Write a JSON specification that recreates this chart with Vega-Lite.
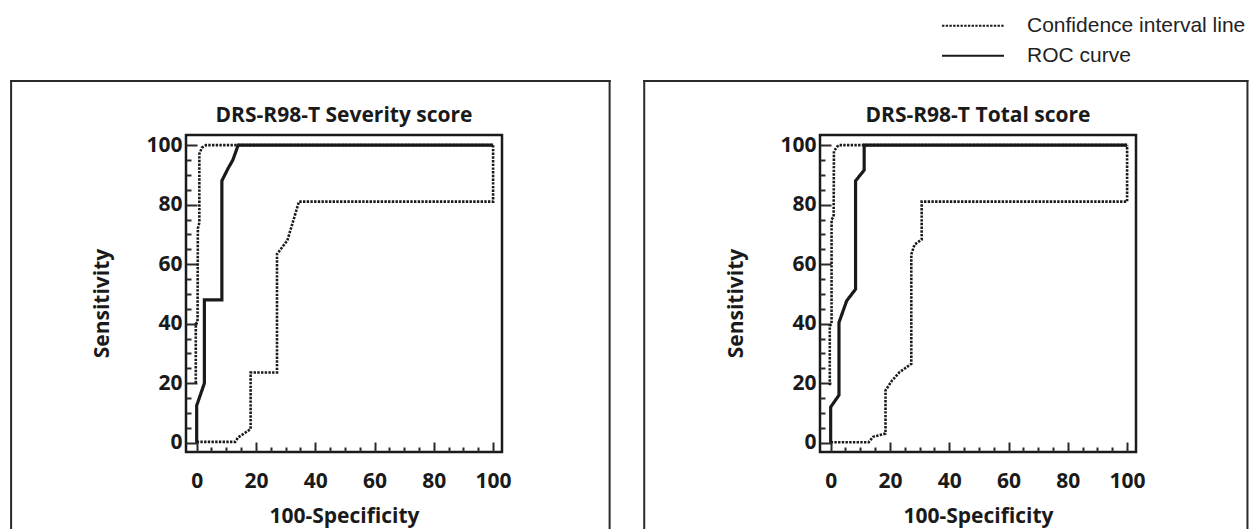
{
  "$schema": "https://vega.github.io/schema/vega-lite/v6.json",
  "background": "white",
  "padding": {"left": 8, "top": 11, "right": 6, "bottom": 0},
  "autosize": {"type": "pad"},
  "spacing": 28,
  "align": "each",
  "datasets": {
    "roc": [
      {"panel": "Severity", "series": "upper", "type": "Confidence interval line", "order": 1, "x": -0.3, "y": 20},
      {"panel": "Severity", "series": "upper", "type": "Confidence interval line", "order": 2, "x": -0.3, "y": 40},
      {"panel": "Severity", "series": "upper", "type": "Confidence interval line", "order": 3, "x": 0.3, "y": 40.5},
      {"panel": "Severity", "series": "upper", "type": "Confidence interval line", "order": 4, "x": 0.4, "y": 72},
      {"panel": "Severity", "series": "upper", "type": "Confidence interval line", "order": 5, "x": 0.9, "y": 74},
      {"panel": "Severity", "series": "upper", "type": "Confidence interval line", "order": 6, "x": 0.9, "y": 97},
      {"panel": "Severity", "series": "upper", "type": "Confidence interval line", "order": 7, "x": 1.8, "y": 99.2},
      {"panel": "Severity", "series": "upper", "type": "Confidence interval line", "order": 8, "x": 3.2, "y": 100},
      {"panel": "Severity", "series": "upper", "type": "Confidence interval line", "order": 9, "x": 100, "y": 100},
      {"panel": "Severity", "series": "lower", "type": "Confidence interval line", "order": 1, "x": 0, "y": 0.3},
      {"panel": "Severity", "series": "lower", "type": "Confidence interval line", "order": 2, "x": 13, "y": 0.3},
      {"panel": "Severity", "series": "lower", "type": "Confidence interval line", "order": 3, "x": 14, "y": 1.8},
      {"panel": "Severity", "series": "lower", "type": "Confidence interval line", "order": 4, "x": 18.2, "y": 4.6},
      {"panel": "Severity", "series": "lower", "type": "Confidence interval line", "order": 5, "x": 18.2, "y": 23.6},
      {"panel": "Severity", "series": "lower", "type": "Confidence interval line", "order": 6, "x": 27.1, "y": 23.6},
      {"panel": "Severity", "series": "lower", "type": "Confidence interval line", "order": 7, "x": 27.1, "y": 63.4},
      {"panel": "Severity", "series": "lower", "type": "Confidence interval line", "order": 8, "x": 30.6, "y": 68},
      {"panel": "Severity", "series": "lower", "type": "Confidence interval line", "order": 9, "x": 34.5, "y": 81},
      {"panel": "Severity", "series": "lower", "type": "Confidence interval line", "order": 10, "x": 100, "y": 81},
      {"panel": "Severity", "series": "lower", "type": "Confidence interval line", "order": 11, "x": 100, "y": 100},
      {"panel": "Severity", "series": "roc", "type": "ROC curve", "order": 1, "x": 0, "y": 0},
      {"panel": "Severity", "series": "roc", "type": "ROC curve", "order": 2, "x": 0, "y": 12.5},
      {"panel": "Severity", "series": "roc", "type": "ROC curve", "order": 3, "x": 2.6, "y": 20},
      {"panel": "Severity", "series": "roc", "type": "ROC curve", "order": 4, "x": 2.6, "y": 48},
      {"panel": "Severity", "series": "roc", "type": "ROC curve", "order": 5, "x": 8.5, "y": 48},
      {"panel": "Severity", "series": "roc", "type": "ROC curve", "order": 6, "x": 8.5, "y": 88},
      {"panel": "Severity", "series": "roc", "type": "ROC curve", "order": 7, "x": 10.5, "y": 92},
      {"panel": "Severity", "series": "roc", "type": "ROC curve", "order": 8, "x": 12.2, "y": 95},
      {"panel": "Severity", "series": "roc", "type": "ROC curve", "order": 9, "x": 14, "y": 100},
      {"panel": "Severity", "series": "roc", "type": "ROC curve", "order": 10, "x": 100, "y": 100},

      {"panel": "Total", "series": "upper", "type": "Confidence interval line", "order": 1, "x": -0.3, "y": 19.3},
      {"panel": "Total", "series": "upper", "type": "Confidence interval line", "order": 2, "x": -0.3, "y": 39.3},
      {"panel": "Total", "series": "upper", "type": "Confidence interval line", "order": 3, "x": 0.3, "y": 40},
      {"panel": "Total", "series": "upper", "type": "Confidence interval line", "order": 4, "x": 0.3, "y": 75},
      {"panel": "Total", "series": "upper", "type": "Confidence interval line", "order": 5, "x": 1.0, "y": 76},
      {"panel": "Total", "series": "upper", "type": "Confidence interval line", "order": 6, "x": 1.1, "y": 98},
      {"panel": "Total", "series": "upper", "type": "Confidence interval line", "order": 7, "x": 2.6, "y": 100},
      {"panel": "Total", "series": "upper", "type": "Confidence interval line", "order": 8, "x": 100, "y": 100},
      {"panel": "Total", "series": "lower", "type": "Confidence interval line", "order": 1, "x": 0, "y": 0.2},
      {"panel": "Total", "series": "lower", "type": "Confidence interval line", "order": 2, "x": 12.8, "y": 0.2},
      {"panel": "Total", "series": "lower", "type": "Confidence interval line", "order": 3, "x": 14.3, "y": 2},
      {"panel": "Total", "series": "lower", "type": "Confidence interval line", "order": 4, "x": 18.5, "y": 3.1},
      {"panel": "Total", "series": "lower", "type": "Confidence interval line", "order": 5, "x": 18.5, "y": 17.6},
      {"panel": "Total", "series": "lower", "type": "Confidence interval line", "order": 6, "x": 20.7, "y": 20.9},
      {"panel": "Total", "series": "lower", "type": "Confidence interval line", "order": 7, "x": 23.2, "y": 23.7},
      {"panel": "Total", "series": "lower", "type": "Confidence interval line", "order": 8, "x": 27.2, "y": 26.5},
      {"panel": "Total", "series": "lower", "type": "Confidence interval line", "order": 9, "x": 27.2, "y": 63.3},
      {"panel": "Total", "series": "lower", "type": "Confidence interval line", "order": 10, "x": 28.3, "y": 66.6},
      {"panel": "Total", "series": "lower", "type": "Confidence interval line", "order": 11, "x": 30.7, "y": 68.3},
      {"panel": "Total", "series": "lower", "type": "Confidence interval line", "order": 12, "x": 30.7, "y": 81},
      {"panel": "Total", "series": "lower", "type": "Confidence interval line", "order": 13, "x": 100, "y": 81},
      {"panel": "Total", "series": "lower", "type": "Confidence interval line", "order": 14, "x": 100, "y": 100},
      {"panel": "Total", "series": "roc", "type": "ROC curve", "order": 1, "x": 0, "y": 0},
      {"panel": "Total", "series": "roc", "type": "ROC curve", "order": 2, "x": 0, "y": 12},
      {"panel": "Total", "series": "roc", "type": "ROC curve", "order": 3, "x": 2.8, "y": 16},
      {"panel": "Total", "series": "roc", "type": "ROC curve", "order": 4, "x": 2.8, "y": 40.4},
      {"panel": "Total", "series": "roc", "type": "ROC curve", "order": 5, "x": 5.4, "y": 47.7},
      {"panel": "Total", "series": "roc", "type": "ROC curve", "order": 6, "x": 8.4, "y": 51.6},
      {"panel": "Total", "series": "roc", "type": "ROC curve", "order": 7, "x": 8.4, "y": 88},
      {"panel": "Total", "series": "roc", "type": "ROC curve", "order": 8, "x": 11.3, "y": 91.6},
      {"panel": "Total", "series": "roc", "type": "ROC curve", "order": 9, "x": 11.3, "y": 100},
      {"panel": "Total", "series": "roc", "type": "ROC curve", "order": 10, "x": 100, "y": 100}
    ]
  },
  "hconcat": [
    {
      "width": 316,
      "height": 317,
      "title": {"text": "DRS-R98-T Severity score", "frame": "group", "anchor": "middle", "offset": -63, "baseline": "alphabetic", "font": "Open Sans", "fontSize": 21, "fontWeight": "bold", "color": "#1a1a1a"},
      "layer": [
        {
          "data": {"name": "roc"},
          "transform": [{"filter": "datum.panel === 'Severity'"}],
          "mark": {"type": "line", "color": "#1a1a1a", "strokeCap": "butt", "strokeJoin": "miter", "clip": false},
          "encoding": {
            "x": {"field": "x", "type": "quantitative", "scale": {"domain": [-3.6, 103], "nice": false, "zero": false},
                  "axis": {"orient": "bottom", "values": [0, 20, 40, 60, 80, 100], "ticks": false, "domain": false, "grid": false, "labelPadding": 18, "labelFlush": false, "labelOverlap": false, "title": "100-Specificity", "titlePadding": 14}},
            "y": {"field": "y", "type": "quantitative", "scale": {"domain": [-3.1, 103.4], "nice": false, "zero": false},
                  "axis": {"orient": "left", "values": [0, 20, 40, 60, 80, 100], "ticks": false, "domain": false, "grid": false, "labelPadding": 4, "labelFlush": false, "labelOverlap": false, "title": "Sensitivity", "titlePadding": 33, "titleY": 168}},
            "detail": {"field": "series", "type": "nominal"},
            "order": {"field": "order", "type": "quantitative"},
            "strokeDash": {"field": "type", "type": "nominal", "scale": {"domain": ["Confidence interval line", "ROC curve"], "range": [[2.4, 1.3], [1, 0]]},
                           "legend": {"title": null, "orient": "none", "legendX": 755, "legendY": -124, "symbolType": "stroke", "symbolSize": 3844, "symbolStrokeWidth": 2, "symbolStrokeColor": "#1a1a1a", "clipHeight": 29.5, "rowPadding": 0, "labelOffset": 22, "labelFont": "Liberation Sans", "labelFontSize": 21, "labelFontWeight": "normal", "labelColor": "#222", "labelLimit": 400, "padding": 0, "direction": "vertical"}},
            "strokeWidth": {"condition": {"test": "datum.type === 'ROC curve'", "value": 3.2}, "value": 2.6}
          }
        },
        {
          "data": {"values": [{}]},
          "mark": {"type": "rule", "color": "#2a2a2a", "strokeWidth": 2, "strokeCap": "square", "clip": false},
          "encoding": {
            "x": {"datum": -62.6, "type": "quantitative",
                  "axis": {"orient": "bottom", "values": [0,5,10,15,20,25,30,35,40,45,50,55,60,65,70,75,80,85,90,95,100], "labels": false, "domain": false, "grid": false, "title": null, "tickWidth": 2, "tickColor": "#2a2a2a", "tickSize": {"condition": {"test": "datum.value % 20 === 0", "value": -10}, "value": -5}}},
            "x2": {"datum": 139.3},
            "y": {"datum": 121.5, "type": "quantitative",
                  "axis": {"orient": "left", "values": [0,5,10,15,20,25,30,35,40,45,50,55,60,65,70,75,80,85,90,95,100], "labels": false, "domain": false, "grid": false, "title": null, "tickWidth": 2, "tickColor": "#2a2a2a", "tickSize": {"condition": {"test": "datum.value % 20 === 0", "value": -11}, "value": -5}}}
          }
        },
        {
          "data": {"values": [{}]},
          "mark": {"type": "rule", "color": "#2a2a2a", "strokeWidth": 2, "strokeCap": "square", "clip": false},
          "encoding": {
            "x": {"datum": -62.6, "type": "quantitative", "axis": null},
            "y": {"datum": 121.5, "type": "quantitative", "axis": null},
            "y2": {"datum": -28.6}
          }
        },
        {
          "data": {"values": [{}]},
          "mark": {"type": "rule", "color": "#2a2a2a", "strokeWidth": 2, "strokeCap": "square", "clip": false},
          "encoding": {
            "x": {"datum": 139.3, "type": "quantitative", "axis": null},
            "y": {"datum": 121.5, "type": "quantitative", "axis": null},
            "y2": {"datum": -28.6}
          }
        }
      ],
      "resolve": {"axis": {"x": "independent", "y": "independent"}}
    },
    {
      "width": 316,
      "height": 317,
      "title": {"text": "DRS-R98-T Total score", "frame": "group", "anchor": "middle", "offset": -63, "baseline": "alphabetic", "font": "Open Sans", "fontSize": 21, "fontWeight": "bold", "color": "#1a1a1a"},
      "layer": [
        {
          "data": {"name": "roc"},
          "transform": [{"filter": "datum.panel === 'Total'"}],
          "mark": {"type": "line", "color": "#1a1a1a", "strokeCap": "butt", "strokeJoin": "miter", "clip": false},
          "encoding": {
            "x": {"field": "x", "type": "quantitative", "scale": {"domain": [-3.6, 103], "nice": false, "zero": false},
                  "axis": {"orient": "bottom", "values": [0, 20, 40, 60, 80, 100], "ticks": false, "domain": false, "grid": false, "labelPadding": 18, "labelFlush": false, "labelOverlap": false, "title": "100-Specificity", "titlePadding": 14}},
            "y": {"field": "y", "type": "quantitative", "scale": {"domain": [-3.1, 103.4], "nice": false, "zero": false},
                  "axis": {"orient": "left", "values": [0, 20, 40, 60, 80, 100], "ticks": false, "domain": false, "grid": false, "labelPadding": 4, "labelFlush": false, "labelOverlap": false, "title": "Sensitivity", "titlePadding": 33, "titleY": 168}},
            "detail": {"field": "series", "type": "nominal"},
            "order": {"field": "order", "type": "quantitative"},
            "strokeDash": {"field": "type", "type": "nominal", "scale": {"domain": ["Confidence interval line", "ROC curve"], "range": [[2.4, 1.3], [1, 0]]},
                           "legend": {"title": null, "orient": "none", "legendX": 755, "legendY": -124, "symbolType": "stroke", "symbolSize": 3844, "symbolStrokeWidth": 2, "symbolStrokeColor": "#1a1a1a", "clipHeight": 29.5, "rowPadding": 0, "labelOffset": 22, "labelFont": "Liberation Sans", "labelFontSize": 21, "labelFontWeight": "normal", "labelColor": "#222", "labelLimit": 400, "padding": 0, "direction": "vertical"}},
            "strokeWidth": {"condition": {"test": "datum.type === 'ROC curve'", "value": 3.2}, "value": 2.6}
          }
        },
        {
          "data": {"values": [{}]},
          "mark": {"type": "rule", "color": "#2a2a2a", "strokeWidth": 2, "strokeCap": "square", "clip": false},
          "encoding": {
            "x": {"datum": -62.9, "type": "quantitative",
                  "axis": {"orient": "bottom", "values": [0,5,10,15,20,25,30,35,40,45,50,55,60,65,70,75,80,85,90,95,100], "labels": false, "domain": false, "grid": false, "title": null, "tickWidth": 2, "tickColor": "#2a2a2a", "tickSize": {"condition": {"test": "datum.value % 20 === 0", "value": -10}, "value": -5}}},
            "x2": {"datum": 140.6},
            "y": {"datum": 121.5, "type": "quantitative",
                  "axis": {"orient": "left", "values": [0,5,10,15,20,25,30,35,40,45,50,55,60,65,70,75,80,85,90,95,100], "labels": false, "domain": false, "grid": false, "title": null, "tickWidth": 2, "tickColor": "#2a2a2a", "tickSize": {"condition": {"test": "datum.value % 20 === 0", "value": -11}, "value": -5}}}
          }
        },
        {
          "data": {"values": [{}]},
          "mark": {"type": "rule", "color": "#2a2a2a", "strokeWidth": 2, "strokeCap": "square", "clip": false},
          "encoding": {
            "x": {"datum": -62.9, "type": "quantitative", "axis": null},
            "y": {"datum": 121.5, "type": "quantitative", "axis": null},
            "y2": {"datum": -28.6}
          }
        },
        {
          "data": {"values": [{}]},
          "mark": {"type": "rule", "color": "#2a2a2a", "strokeWidth": 2, "strokeCap": "square", "clip": false},
          "encoding": {
            "x": {"datum": 140.6, "type": "quantitative", "axis": null},
            "y": {"datum": 121.5, "type": "quantitative", "axis": null},
            "y2": {"datum": -28.6}
          }
        }
      ],
      "resolve": {"axis": {"x": "independent", "y": "independent"}}
    }
  ],
  "resolve": {"scale": {"strokeDash": "shared"}, "legend": {"strokeDash": "shared"}},
  "config": {
    "view": {"stroke": "#1a1a1a", "strokeWidth": 2.5},
    "axis": {"labelFont": "Open Sans", "labelFontWeight": "bold", "labelFontSize": 21, "labelColor": "#1a1a1a", "titleFont": "Open Sans", "titleFontWeight": "bold", "titleFontSize": 21, "titleColor": "#1a1a1a"},
    "font": "Open Sans"
  }
}
